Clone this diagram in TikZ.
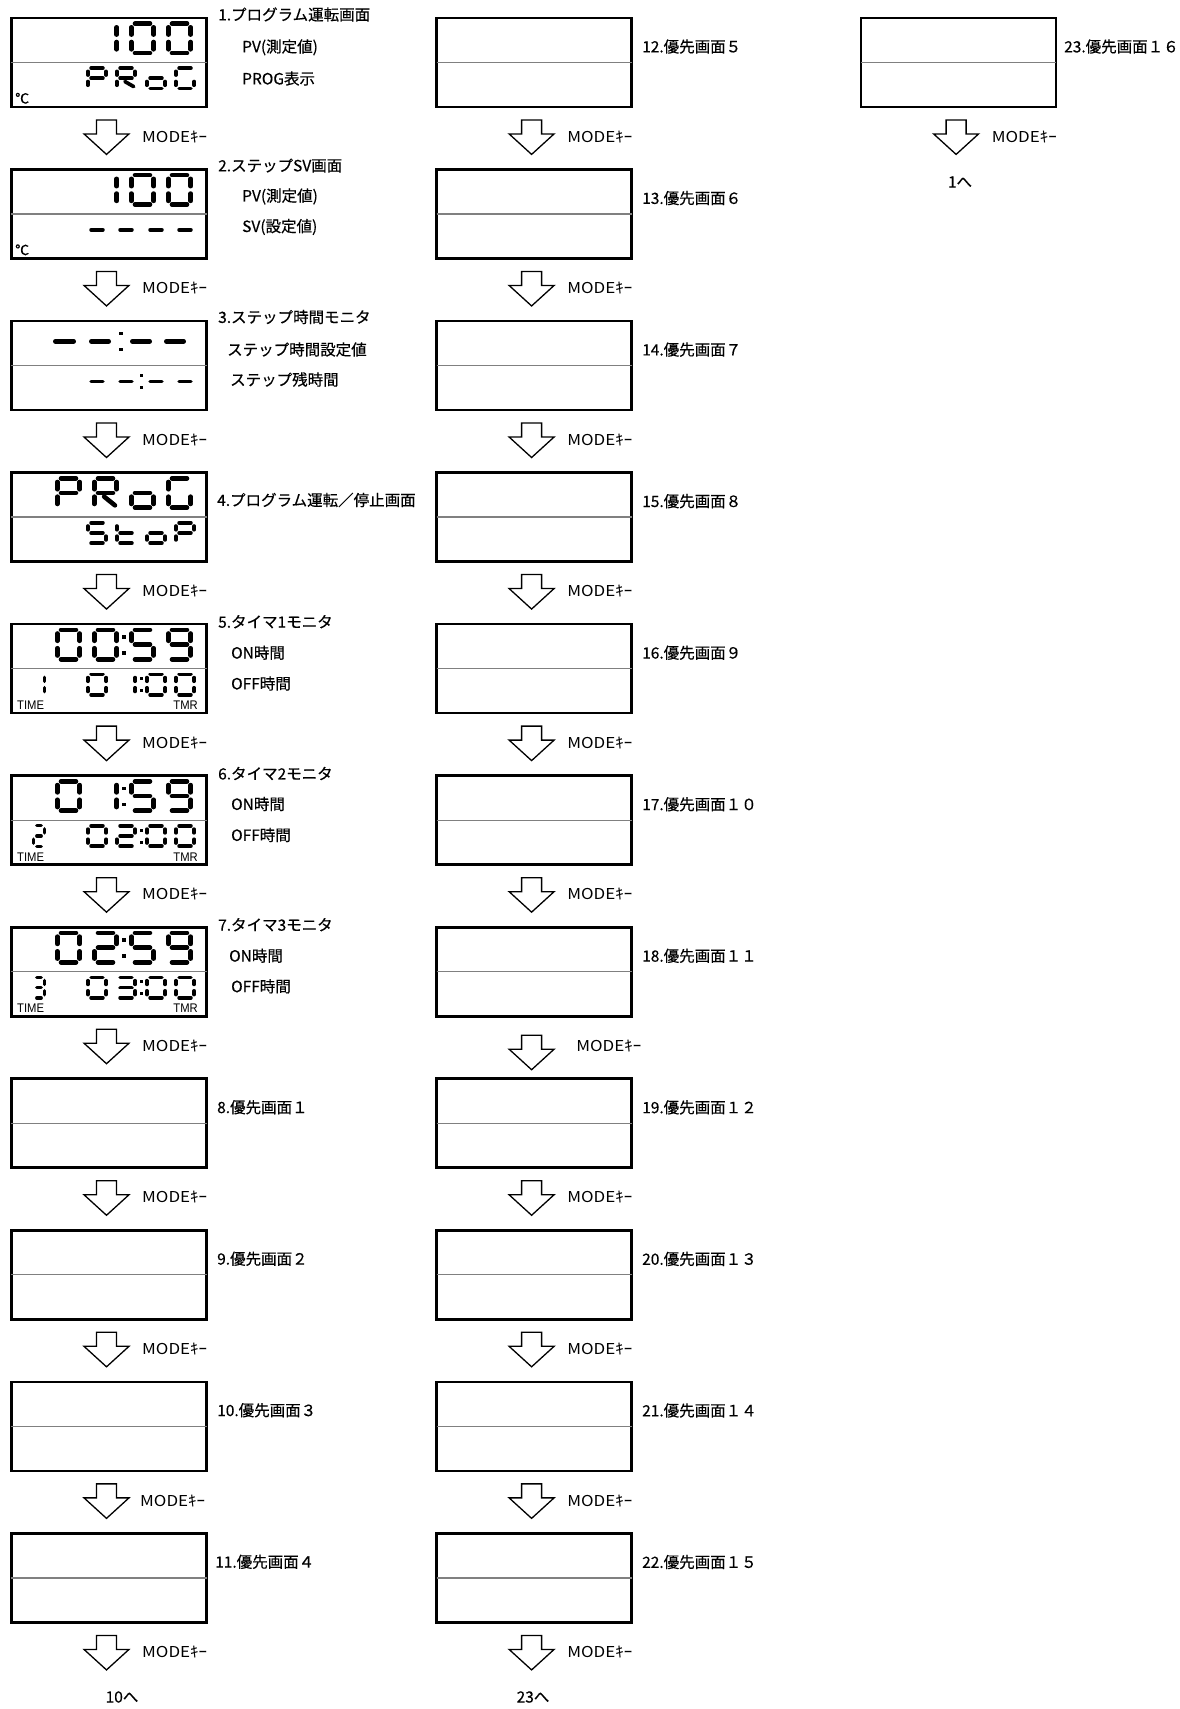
\documentclass[tikz,border=0pt]{standalone}
\usepackage{fontspec}
\setmainfont[FakeBold=0.4]{Noto Sans CJK JP}
\newfontfamily\modefont[FakeStretch=1.13]{Noto Sans CJK JP}
\newfontfamily\tinyfont[FakeStretch=0.9]{Liberation Sans}
\usetikzlibrary{calc}

\tikzset{
  lcdbox/.style={draw=black, line width=2.6pt, fill=white, minimum width=195.4pt,
    minimum height=89pt, inner sep=0pt, anchor=north west},
  divider/.style={draw=black!50, line width=1.3pt},
  seg/.style={line cap=round, draw=black},
  lbl/.style={anchor=west, inner sep=0pt, font=\fontsize{15.5}{18}\selectfont},
  modelbl/.style={anchor=west, inner sep=0pt, font=\modefont\fontsize{15}{17}\selectfont},
  blockarrow/.style={draw=black, line width=1.3pt, fill=white, line join=miter},
  tinylbl/.style={inner sep=0pt, font=\tinyfont\fontsize{12.5}{14}\selectfont},
  degl/.style={anchor=west, inner sep=0pt, font=\fontsize{14}{16}\selectfont},
}

% seven segment pieces
\def\segXa{\draw[seg,line width=\qW pt] (\qL+\qG,\qT) -- (\qR-\qG,\qT);}
\def\segXb{\draw[seg,line width=\qW pt] (\qR,\qT+\qG) -- (\qR,\qM-\qG);}
\def\segXc{\draw[seg,line width=\qW pt] (\qR,\qM+\qG) -- (\qR,\qB-\qG);}
\def\segXd{\draw[seg,line width=\qW pt] (\qL+\qG,\qB) -- (\qR-\qG,\qB);}
\def\segXe{\draw[seg,line width=\qW pt] (\qL,\qM+\qG) -- (\qL,\qB-\qG);}
\def\segXf{\draw[seg,line width=\qW pt] (\qL,\qT+\qG) -- (\qL,\qM-\qG);}
\def\segXg{\draw[seg,line width=\qW pt] (\qL+\qG,\qM) -- (\qR-\qG,\qM);}
\def\segXr{\draw[seg,line width=\qW pt] (\qDx,\qM+\qG) -- (\qDe,\qB-\qW/2);}

\newcommand{\sevseg}[6]{%
  \pgfmathsetmacro{\qL}{#1+#5/2}%
  \pgfmathsetmacro{\qR}{#1+#3-#5/2}%
  \pgfmathsetmacro{\qT}{#2+#5/2}%
  \pgfmathsetmacro{\qB}{#2+#4-#5/2}%
  \pgfmathsetmacro{\qM}{#2+#4/2}%
  \pgfmathsetmacro{\qG}{#5/2+1.4}%
  \pgfmathsetmacro{\qW}{#5}%
  \pgfmathsetmacro{\qDx}{#1+0.45*#3}%
  \pgfmathsetmacro{\qDe}{#1+0.85*#3}%
  \foreach \s in {#6}{\csname segX\s\endcsname}%
}
\newcommand{\bigdig}[3]{\sevseg{#1}{#2+6}{27}{34}{4.6}{#3}}
\newcommand{\smdig}[3]{\sevseg{#1}{#2+51}{22}{24}{3.7}{#3}}
\newcommand{\leftdig}[2]{\sevseg{32}{#1+51}{14}{24}{3.4}{#2}}
\newcommand{\bigcolon}[1]{\fill (122,#1+13.5) rectangle (126,#1+17);
  \fill (122,#1+29.5) rectangle (126,#1+33);}
\newcommand{\smcolon}[1]{\fill (139.5,#1+55.5) rectangle (143,#1+58.5);
  \fill (139.5,#1+67.5) rectangle (143,#1+70.5);}

\newcommand{\modearrow}[4]{%
  \draw[blockarrow] ($(#1.south)+(-12.5,11.7+#3)$) -- ++(20,0) -- ++(0,14) -- ++(12.5,0)
     -- ++(-22.5,20.5) -- ++(-22.5,-20.5) -- ++(12.5,0) -- cycle;
  \node[modelbl] (#2) at ($(#1.south)+(#4,28.4)$) {MODEｷｰ};
}

\begin{document}
\begin{tikzpicture}[x=1pt,y=-1pt]
\fill[white] (0,0) rectangle (1179,1709);
\useasboundingbox (0,0) rectangle (1179,1709);

% ---------- boxes ----------
\foreach \i in {1,...,11}{
  \node[lcdbox] (b\i) at (10,{16.6+151.55*(\i-1)}) {};
  \draw[divider] ([xshift=1.3pt]b\i.west) -- ([xshift=-1.3pt]b\i.east);
}
\foreach \i in {12,...,22}{
  \node[lcdbox, minimum width=195pt] (b\i) at (435.3,{16.6+151.55*(\i-12)}) {};
  \draw[divider] ([xshift=1.3pt]b\i.west) -- ([xshift=-1.3pt]b\i.east);
}
\node[lcdbox, minimum width=195pt] (b23) at (859.8,16.6) {};
\draw[divider] ([xshift=1.3pt]b23.west) -- ([xshift=-1.3pt]b23.east);

% ---------- LCD contents ----------
% 1: 100 / PRoG
\bigdig{92}{15.3}{b,c}\bigdig{129}{15.3}{a,b,c,d,e,f}\bigdig{166}{15.3}{a,b,c,d,e,f}
\smdig{86}{15.3}{a,b,f,g,e}\smdig{115}{15.3}{a,b,f,g,e,r}\smdig{145}{15.3}{g,c,d,e}\smdig{174}{15.3}{a,f,e,d,c}
\node[degl] (deg1) at (15,98.3) {℃};
% 2: 100 / ----
\bigdig{92}{166.85}{b,c}\bigdig{129}{166.85}{a,b,c,d,e,f}\bigdig{166}{166.85}{a,b,c,d,e,f}
\smdig{86}{166.85}{g}\smdig{115}{166.85}{g}\smdig{145}{166.85}{g}\smdig{174}{166.85}{g}
\node[degl] (deg2) at (15,249.85) {℃};
% 3: --:-- / --:--
\foreach \xa/\xb in {55.3/73.7, 91.3/108.7, 132.3/149.7, 166.3/183.7}{
  \draw[seg, line width=4.6pt] (\xa,341.4) -- (\xb,341.4);
}
\fill (118.5,331.9) rectangle (122.5,335.4);
\fill (118.5,347.6) rectangle (122.5,351.1);
\smdig{86}{318.4}{g}\smdig{115}{318.4}{g}\smdig{145}{318.4}{g}\smdig{174}{318.4}{g}
\smcolon{318.4}
% 4: PRoG / StoP
\bigdig{55}{469.95}{a,b,f,g,e}\bigdig{92}{469.95}{a,b,f,g,e,r}\bigdig{129}{469.95}{g,c,d,e}\bigdig{166}{469.95}{a,f,e,d,c}
\smdig{86}{469.95}{a,f,g,c,d}\smdig{115}{469.95}{f,g,e,d}\smdig{145}{469.95}{g,c,d,e}\smdig{174}{469.95}{a,b,f,g,e}
% 5: 00:59 / 1 01:00
\bigdig{55}{621.5}{a,b,c,d,e,f}\bigdig{92}{621.5}{a,b,c,d,e,f}\bigcolon{621.5}
\bigdig{129}{621.5}{a,f,g,c,d}\bigdig{166}{621.5}{a,b,c,d,f,g}
\leftdig{621.5}{b,c}
\smdig{86}{621.5}{a,b,c,d,e,f}\smdig{115}{621.5}{b,c}\smcolon{621.5}
\smdig{145}{621.5}{a,b,c,d,e,f}\smdig{174}{621.5}{a,b,c,d,e,f}
\node[tinylbl, anchor=west] (time5) at (17,705.5) {TIME};
\node[tinylbl, anchor=east] (tmr5) at (198,705.5) {TMR};
% 6: 01:59 / 2 02:00
\bigdig{55}{773.05}{a,b,c,d,e,f}\bigdig{92}{773.05}{b,c}\bigcolon{773.05}
\bigdig{129}{773.05}{a,f,g,c,d}\bigdig{166}{773.05}{a,b,c,d,f,g}
\leftdig{773.05}{a,b,g,e,d}
\smdig{86}{773.05}{a,b,c,d,e,f}\smdig{115}{773.05}{a,b,g,e,d}\smcolon{773.05}
\smdig{145}{773.05}{a,b,c,d,e,f}\smdig{174}{773.05}{a,b,c,d,e,f}
\node[tinylbl, anchor=west] (time6) at (17,857.05) {TIME};
\node[tinylbl, anchor=east] (tmr6) at (198,857.05) {TMR};
% 7: 02:59 / 3 03:00
\bigdig{55}{924.6}{a,b,c,d,e,f}\bigdig{92}{924.6}{a,b,g,e,d}\bigcolon{924.6}
\bigdig{129}{924.6}{a,f,g,c,d}\bigdig{166}{924.6}{a,b,c,d,f,g}
\leftdig{924.6}{a,b,g,c,d}
\smdig{86}{924.6}{a,b,c,d,e,f}\smdig{115}{924.6}{a,b,g,c,d}\smcolon{924.6}
\smdig{145}{924.6}{a,b,c,d,e,f}\smdig{174}{924.6}{a,b,c,d,e,f}
\node[tinylbl, anchor=west] (time7) at (17,1008.6) {TIME};
\node[tinylbl, anchor=east] (tmr7) at (198,1008.6) {TMR};

% ---------- labels column 1 ----------
\node[lbl] (t1) at (218,14.5) {1.プログラム運転画面};
\node[lbl] (t1a) at (242,47.3) {PV(測定値)};
\node[lbl] (t1b) at (242,78.5) {PROG表示};
\node[lbl] (t2) at (218,165.5) {2.ステップSV画面};
\node[lbl] (t2a) at (242,196.5) {PV(測定値)};
\node[lbl] (t2b) at (242,227) {SV(設定値)};
\node[lbl] (t3) at (218,317) {3.ステップ時間モニタ};
\node[lbl] (t3a) at (227,349.5) {ステップ時間設定値};
\node[lbl] (t3b) at (230,379.5) {ステップ残時間};
\node[lbl] (t4) at (217,500) {4.プログラム運転／停止画面};
\node[lbl] (t5) at (218,621.7) {5.タイマ1モニタ};
\node[lbl] (t5a) at (231,652.7) {ON時間};
\node[lbl] (t5b) at (231,683.5) {OFF時間};
\node[lbl] (t6) at (218,773.5) {6.タイマ2モニタ};
\node[lbl] (t6a) at (231,804) {ON時間};
\node[lbl] (t6b) at (231,835) {OFF時間};
\node[lbl] (t7) at (218,924.7) {7.タイマ3モニタ};
\node[lbl] (t7a) at (229,955.7) {ON時間};
\node[lbl] (t7b) at (231,986.3) {OFF時間};
\node[lbl] (t8) at (217,1107.2) {8.優先画面１};
\node[lbl] (t9) at (217,1258.7) {9.優先画面２};
\node[lbl] (t10) at (217,1410.2) {10.優先画面３};
\node[lbl] (t11) at (215,1561.8) {11.優先画面４};

% ---------- labels column 2 / 3 ----------
\foreach \i/\txt in {12/12.優先画面５, 13/13.優先画面６, 14/14.優先画面７, 15/15.優先画面８,
  16/16.優先画面９, 17/17.優先画面１０, 18/18.優先画面１１, 19/19.優先画面１２,
  20/20.優先画面１３, 21/21.優先画面１４, 22/22.優先画面１５}{
  \node[lbl] (t\i) at (642,{46.5+151.55*(\i-12)}) {\txt};
}
\node[lbl] (t23) at (1064,46.5) {23.優先画面１６};

% ---------- MODE arrows ----------
\foreach \i/\dy/\dx in {1/0/33, 2/0/33, 3/0/33, 4/0/33, 5/0/33, 6/0/33, 7/0/33, 8/0/33,
  9/0/33, 10/0/31, 11/0/33, 12/0/33, 13/0/33, 14/0/33, 15/0/33, 16/0/33, 17/0/33,
  18/6/42, 19/0/33, 20/0/33, 21/0/33, 22/0/33, 23/0/33}{
  \modearrow{b\i}{m\i}{\dy}{\dx}
}

% ---------- continuation notes ----------
\node[lbl, anchor=center] (to10) at (122,1697) {10へ};
\node[lbl, anchor=center] (to23) at (533,1697) {23へ};
\node[lbl, anchor=center] (to1) at (960,182) {1へ};
\end{tikzpicture}
\end{document}
